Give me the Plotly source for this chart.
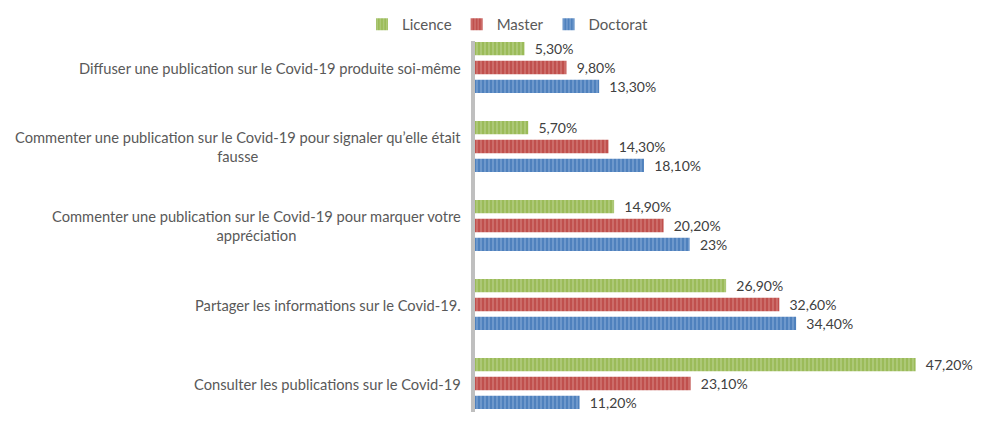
import plotly.graph_objects as go

categories = [
    "Diffuser une publication sur le Covid-19 produite soi-même",
    "Commenter une publication sur le Covid-19 pour signaler qu’elle était<br>fausse",
    "Commenter une publication sur le Covid-19 pour marquer votre<br>appréciation",
    "Partager les informations sur le Covid-19.",
    "Consulter les publications sur le Covid-19",
]
licence = [5.3, 5.7, 14.9, 26.9, 47.2]
master = [9.8, 14.3, 20.2, 32.6, 23.1]
doctorat = [13.3, 18.1, 23.0, 34.4, 11.2]

series = [
    ("Licence", licence, "#9BBB59", "#C2D79A"),
    ("Master", master, "#C0504D", "#DC8F8C"),
    ("Doctorat", doctorat, "#4F81BD", "#93B3DD"),
]

FONT = "Lato"
TEXT = "#595959"

# the page puts the figure 8px in from the top-left, so keep it small
# enough to avoid scrollbars
W, H = 974, 404
R = 2
PW, PH = W - R, H
AXIS_X = 467      # left edge of the bar area
PLOT_TOP = 20     # top of the bar area
BAND = 79         # pixels per category


def fmt(v):
    if float(v).is_integer():
        return f"{int(v)}%"
    return f"{v:.2f}".replace(".", ",") + "%"


fig = go.Figure()
for name, vals, dark, light in series:
    fig.add_trace(go.Bar(
        name=name,
        y=categories,
        x=vals,
        orientation="h",
        marker=dict(
            color=dark,
            line=dict(width=0),
            pattern=dict(shape="|", fgcolor=light, size=4, solidity=0.45, fillmode="overlay"),
        ),
        text=[fmt(v) for v in vals],
        texttemplate="\u00a0\u00a0%{text}",
        textposition="outside",
        constraintext="none",
        cliponaxis=False,
        textfont=dict(family=FONT, size=14, color="#404040"),
    ))

# category labels, right-aligned to the axis, centred when wrapped
for c in categories:
    fig.add_annotation(
        x=0, xref="x", xanchor="right", xshift=-12,
        y=c, yref="y", yanchor="middle",
        text=c, align="center", showarrow=False,
        font=dict(family=FONT, size=14.7, color=TEXT),
    )

# outer chart border on the right
fig.add_shape(type="line", xref="paper", yref="paper",
              x0=1.0, x1=1.0, y0=0, y1=1.0,
              line=dict(color="#D9D9D9", width=2))

plot_h = PH - PLOT_TOP
fig.update_layout(
    width=W, height=H,
    margin=dict(l=0, r=R, t=0, b=0),
    plot_bgcolor="white", paper_bgcolor="white",
    barmode="group", bargap=0.28, bargroupgap=0.3,
    font=dict(family=FONT, size=14, color=TEXT),
    showlegend=True,
    legend=dict(
        orientation="h", xref="paper", yref="paper",
        x=500 / PW, xanchor="center", y=1, yanchor="top",
        font=dict(family=FONT, size=15, color=TEXT),
        itemwidth=30, traceorder="normal",
    ),
    xaxis=dict(domain=[AXIS_X / PW, 1], range=[0, 54.1], showgrid=False,
               showticklabels=False, zeroline=False, showline=False, ticks=""),
    yaxis=dict(domain=[0, 1 - PLOT_TOP / PH], range=[plot_h / BAND - 0.5, -0.5],
               showticklabels=False, showgrid=False,
               showline=True, linecolor="#BFBFBF", linewidth=3.5, ticks=""),
)

fig.write_html("out.html")
